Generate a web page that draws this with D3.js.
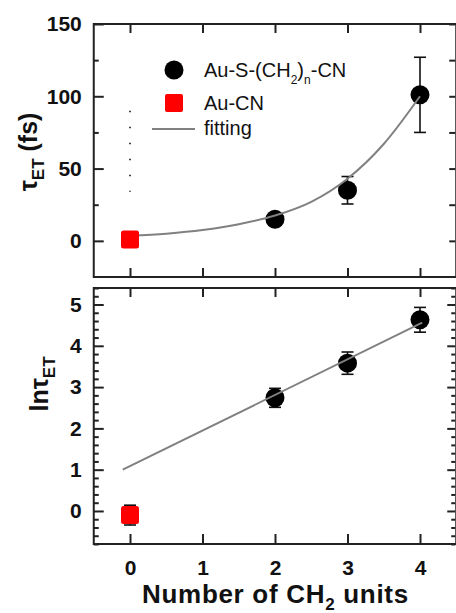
<!DOCTYPE html>
<html>
<head>
<meta charset="utf-8">
<script src="https://cdn.jsdelivr.net/npm/d3@7"></script>
<style>
  body { margin: 0; background: #fff; }
  text { font-family: "Liberation Sans", Arial, sans-serif; }
</style>
</head>
<body>
<div id="chart"></div>
<script>
// ---- data ----
const nS = [2, 3, 4];                 // Au-S-(CH2)n-CN
const tauS = [15, 35, 101];
const tauErrS = [3, 9.5, 26];
const nCN = [0];                      // Au-CN
const tauCN = [1];
const tauErrCN = [0];
const dotRange = [34, 90];            // dotted segment above Au-CN
const fitN = [0, 0.5, 1, 1.5, 2, 2.5, 3, 3.5, 4];
const fitTau = [3.5, 5, 7.5, 11.5, 17.5, 27, 43, 67, 100];

const lnS = [2.74, 3.58, 4.63];
const lnErrS = [0.23, 0.27, 0.3];
const lnCN = [-0.1];
const lnErrCN = [0.24];
const fitLnN = [-0.1, 4.03];
const fitLn = [1.0, 4.56];

const xTicks = [0, 1, 2, 3, 4];
const tauTicks = [0, 50, 100, 150];
const lnTicks = [0, 1, 2, 3, 4, 5];

const width = 456, height = 613;
const svg = d3.select('#chart').append('svg')
    .attr('width', width).attr('height', height);

const x = d3.scaleLinear().domain([-0.5, 4.5]).range([93.75, 456.25]);
const yTop = d3.scaleLinear().domain([-25, 150]).range([277, 24]);
const yBot = d3.scaleLinear().domain([-0.8, 5.4]).range([544, 288]);
const intFmt = d3.format('d');

const frameColor = '#222';
const fitColor = '#808080';

function styleAxis(g) {
    g.select('.domain').remove();
    g.selectAll('line').attr('stroke', frameColor).attr('stroke-width', 2);
    g.selectAll('text').attr('fill', '#111').attr('font-weight', 'bold')
        .attr('font-size', 21).attr('font-family', '"Liberation Sans", Arial, sans-serif');
}

function frame(y) {
    const [b, t] = y.range();
    svg.append('rect')
        .attr('x', x.range()[0]).attr('y', t)
        .attr('width', x.range()[1] - x.range()[0]).attr('height', b - t)
        .attr('fill', 'none').attr('stroke', frameColor).attr('stroke-width', 2);
}

// ---------- top panel ----------
const x0 = x.range()[0], x1 = x.range()[1];
svg.append('g').attr('transform', `translate(${x0},0)`)
    .call(d3.axisLeft(yTop).tickValues([25, 75, 125]).tickSizeInner(-5).tickSizeOuter(0).tickFormat(''))
    .call(styleAxis);
svg.append('g').attr('transform', `translate(${x0},0)`)
    .call(d3.axisLeft(yTop).tickValues(tauTicks).tickSizeInner(-10).tickSizeOuter(0).tickPadding(12).tickFormat(intFmt))
    .call(styleAxis);
svg.append('g').attr('transform', `translate(${x1 - 1},0)`)
    .call(d3.axisRight(yTop).tickValues(d3.range(0, 151, 25)).tickSizeInner(-6).tickSizeOuter(0).tickFormat(''))
    .call(styleAxis);
svg.append('g').attr('transform', `translate(0,${yTop.range()[1]})`)
    .call(d3.axisTop(x).tickValues(xTicks).tickSizeInner(-9).tickSizeOuter(0).tickFormat(''))
    .call(styleAxis);
svg.append('g').attr('transform', `translate(0,${yTop.range()[0]})`)
    .call(d3.axisBottom(x).tickValues(xTicks).tickSizeInner(-9).tickSizeOuter(0).tickFormat(''))
    .call(styleAxis);
frame(yTop);

// dotted segment
svg.append('line')
    .attr('x1', x(0)).attr('x2', x(0))
    .attr('y1', yTop(dotRange[1])).attr('y2', yTop(dotRange[0]))
    .attr('stroke', '#111').attr('stroke-width', 1.6)
    .attr('stroke-dasharray', '1.6,14.4');

function errorBars(g, xs, ys, es, y) {
    xs.forEach((n, i) => {
        if (!es[i]) return;
        const cx = x(n), lo = y(ys[i] - es[i]), hi = y(ys[i] + es[i]);
        g.append('line').attr('x1', cx).attr('x2', cx).attr('y1', lo).attr('y2', hi)
            .attr('stroke', '#111').attr('stroke-width', 1.6);
        [lo, hi].forEach(v => g.append('line')
            .attr('x1', cx - 6).attr('x2', cx + 6).attr('y1', v).attr('y2', v)
            .attr('stroke', '#111').attr('stroke-width', 1.6));
    });
}

const topG = svg.append('g');
errorBars(topG, nS, tauS, tauErrS, yTop);
topG.selectAll('.dotS').data(nS).enter().append('circle')
    .attr('cx', d => x(d)).attr('cy', (d, i) => yTop(tauS[i])).attr('r', 9.5)
    .attr('fill', '#000');

const fitLine = d3.line().x(d => x(d[0])).y(d => yTop(d[1])).curve(d3.curveMonotoneX);
topG.append('path').datum(fitN.map((n, i) => [n, fitTau[i]]))
    .attr('d', fitLine).attr('fill', 'none').attr('stroke', fitColor).attr('stroke-width', 2);

errorBars(topG, nCN, tauCN, tauErrCN, yTop);
topG.selectAll('.sqCN').data(nCN).enter().append('rect')
    .attr('x', d => x(d) - 9).attr('y', (d, i) => yTop(tauCN[i]) - 9)
    .attr('width', 18).attr('height', 18).attr('rx', 2.5)
    .attr('fill', '#ff0000');

// legend
const leg = svg.append('g');
leg.append('circle').attr('cx', 174).attr('cy', 70).attr('r', 9.5).attr('fill', '#000');
leg.append('rect').attr('x', 165).attr('y', 94).attr('width', 18).attr('height', 18).attr('rx', 2).attr('fill', '#ff0000');
leg.append('line').attr('x1', 152).attr('x2', 195).attr('y1', 129).attr('y2', 129)
    .attr('stroke', fitColor).attr('stroke-width', 2);
const legFont = 20;
const t1 = leg.append('text').attr('x', 204).attr('y', 77).attr('font-size', legFont).attr('fill', '#111');
t1.append('tspan').text('Au-S-(CH');
t1.append('tspan').text('2').attr('font-size', 12).attr('dy', 7);
t1.append('tspan').text(')').attr('dy', -7);
t1.append('tspan').text('n').attr('font-size', 12).attr('dy', 7);
t1.append('tspan').text('-CN').attr('dy', -7);
leg.append('text').attr('x', 204).attr('y', 110).attr('font-size', legFont).attr('fill', '#111').text('Au-CN');
leg.append('text').attr('x', 204).attr('y', 135).attr('font-size', legFont).attr('fill', '#111').text('fitting');

// top y label
const yl1 = svg.append('text')
    .attr('transform', 'translate(37,152) rotate(-90)')
    .attr('text-anchor', 'middle').attr('font-weight', 'bold').attr('font-size', 25).attr('fill', '#111');
yl1.append('tspan').text('τ');
yl1.append('tspan').text('ET').attr('font-size', 17).attr('dy', 7);
yl1.append('tspan').text(' (fs)').attr('dy', -7);

// ---------- bottom panel ----------
const minorLn = d3.range(-0.8, 5.41, 0.2).filter(v => Math.abs(v - Math.round(v)) > 0.05);
svg.append('g').attr('transform', `translate(${x0},0)`)
    .call(d3.axisLeft(yBot).tickValues(minorLn).tickSizeInner(-5).tickSizeOuter(0).tickFormat(''))
    .call(styleAxis);
svg.append('g').attr('transform', `translate(${x0},0)`)
    .call(d3.axisLeft(yBot).tickValues(lnTicks).tickSizeInner(-10).tickSizeOuter(0).tickPadding(12).tickFormat(intFmt))
    .call(styleAxis);
svg.append('g').attr('transform', `translate(${x1 - 1},0)`)
    .call(d3.axisRight(yBot).tickValues(minorLn).tickSizeInner(-4).tickSizeOuter(0).tickFormat(''))
    .call(styleAxis);
svg.append('g').attr('transform', `translate(${x1 - 1},0)`)
    .call(d3.axisRight(yBot).tickValues(lnTicks).tickSizeInner(-8).tickSizeOuter(0).tickFormat(''))
    .call(styleAxis);
svg.append('g').attr('transform', `translate(0,${yBot.range()[1]})`)
    .call(d3.axisTop(x).tickValues(xTicks).tickSizeInner(-9).tickSizeOuter(0).tickFormat(''))
    .call(styleAxis);
svg.append('g').attr('transform', `translate(0,${yBot.range()[0]})`)
    .call(d3.axisBottom(x).tickValues(xTicks).tickSizeInner(-10).tickSizeOuter(0).tickPadding(16).tickFormat(intFmt))
    .call(styleAxis);
frame(yBot);

const botG = svg.append('g');
errorBars(botG, nS, lnS, lnErrS, yBot);
botG.selectAll('.dotS').data(nS).enter().append('circle')
    .attr('cx', d => x(d)).attr('cy', (d, i) => yBot(lnS[i])).attr('r', 9.5)
    .attr('fill', '#000');
botG.append('path').datum(fitLnN.map((n, i) => [n, fitLn[i]]))
    .attr('d', d3.line().x(d => x(d[0])).y(d => yBot(d[1])))
    .attr('fill', 'none').attr('stroke', fitColor).attr('stroke-width', 2);
errorBars(botG, nCN, lnCN, lnErrCN, yBot);
botG.selectAll('.sqCN').data(nCN).enter().append('rect')
    .attr('x', d => x(d) - 9).attr('y', (d, i) => yBot(lnCN[i]) - 9)
    .attr('width', 18).attr('height', 18).attr('rx', 2.5)
    .attr('fill', '#ff0000');

// bottom y label
const yl2 = svg.append('text')
    .attr('transform', 'translate(48,384) rotate(-90)')
    .attr('text-anchor', 'middle').attr('font-weight', 'bold').attr('font-size', 25).attr('fill', '#111');
yl2.append('tspan').text('lnτ');
yl2.append('tspan').text('ET').attr('font-size', 17).attr('dy', 7);

// x label
const xl = svg.append('text')
    .attr('x', 142).attr('y', 603)
    .attr('font-weight', 'bold').attr('font-size', 26).attr('letter-spacing', 0.7).attr('fill', '#111');
xl.append('tspan').text('Number of CH');
xl.append('tspan').text('2').attr('font-size', 17).attr('dy', 7);
xl.append('tspan').text(' units').attr('dy', -7);
</script>
</body>
</html>
